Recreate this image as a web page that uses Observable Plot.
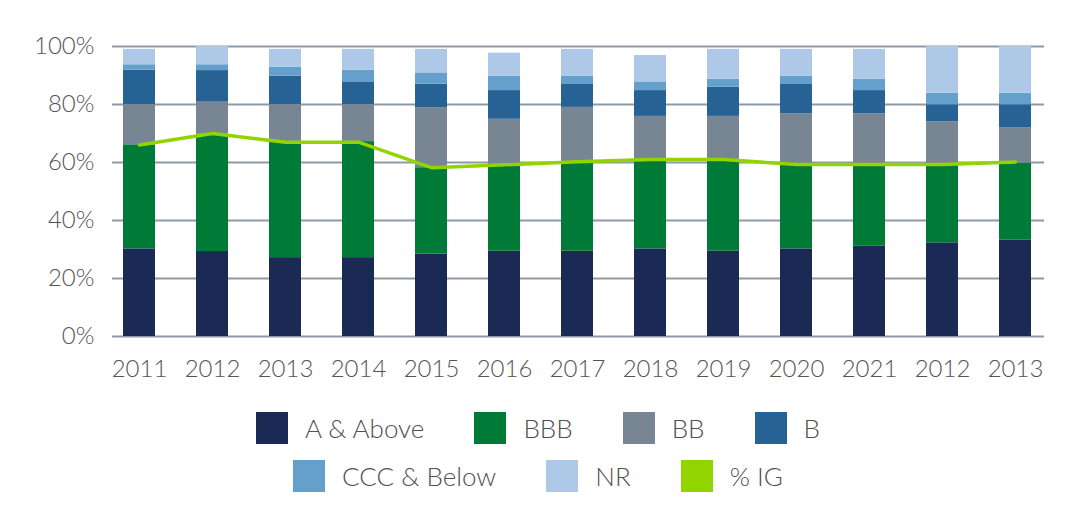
<!DOCTYPE html>
<html>
<head>
<meta charset="utf-8">
<script src="https://cdn.jsdelivr.net/npm/d3@7"></script>
<script src="https://cdn.jsdelivr.net/npm/@observablehq/plot@0.6"></script>
<style>
  body { margin: 0; background: #fff; font-family: Lato, "Open Sans", sans-serif; font-weight: 300; }
  #chart svg { display: block; }
  .legend { width: 1076px; padding-top: 14px; color: #505050; font-size: 26px; }
  .row { display: flex; justify-content: center; align-items: center; height: 48px; }
  .item { display: flex; align-items: center; margin: 0 25px; }
  .sw { width: 32px; height: 32px; margin-right: 17px; }
</style>
</head>
<body>
<div id="chart"></div>
<div class="legend" id="legend"></div>
<script>
const years = ["2011","2012","2013","2014","2015","2016","2017","2018","2019","2020","2021","2012","2013"];
const categories = ["A & Above","BBB","BB","B","CCC & Below","NR"];
const colors = ["#1b2a55","#007a37","#778692","#266294","#659fcb","#adc9e7"];
const igColor = "#92d400";

const aAbove   = [30.2, 29.3, 27.2, 27.2, 28.4, 29.4, 29.4, 30.2, 29.4, 30.2, 31.1, 32.3, 33.3];
const bbb      = [35.9, 40.5, 39.7, 40.0, 29.8, 29.8, 30.9, 30.8, 31.6, 29.1, 28.2, 27.0, 26.5];
const bb       = [13.9, 11.0, 13.1, 12.8, 20.7, 15.7, 18.7, 14.9, 14.9, 17.5, 17.5, 14.7, 12.1];
const b        = [11.8, 10.9,  9.8,  7.8,  8.1,  9.9,  7.9,  8.9, 10.1, 10.1,  8.0,  5.9,  8.0];
const cccBelow = [ 1.9,  2.0,  3.1,  4.0,  3.9,  5.0,  2.9,  3.0,  2.7,  2.9,  3.9,  4.0,  4.0];
const nr       = [ 5.3,  6.3,  6.1,  7.2,  8.1,  7.9,  9.2,  9.1, 10.3,  9.2, 10.3, 16.1, 16.1];
const pctIG    = [66.0, 70.0, 67.0, 67.0, 58.2, 59.2, 60.3, 61.0, 61.0, 59.3, 59.3, 59.3, 60.2];

const series = [aAbove, bbb, bb, b, cccBelow, nr];
const idx = years.map((_, i) => String(i));
const rows = [];
categories.forEach((c, ci) => {
  series[ci].forEach((v, i) => rows.push({key: idx[i], cat: c, value: v}));
});
const igRows = pctIG.map((v, i) => ({key: idx[i], value: v}));

const plot = Plot.plot({
  width: 1076,
  height: 390,
  marginLeft: 102.5,
  marginRight: 24.5,
  marginTop: 46,
  marginBottom: 54,
  style: {fontFamily: "Lato, 'Open Sans', sans-serif", fontSize: "24px", color: "#555", fontWeight: 300},
  x: {domain: idx, paddingInner: 0.56, paddingOuter: 0.28, label: null},
  y: {domain: [0, 100], label: null},
  color: {domain: categories, range: colors},
  marks: [
    Plot.ruleY([0, 20, 40, 60, 80, 100], {stroke: "#8d99a6", strokeWidth: 2, insetLeft: 9.5, insetRight: 7.5}),
    Plot.barY(rows, {x: "key", y: "value", fill: "cat", order: categories}),
    Plot.line(igRows, {x: "key", y: "value", stroke: igColor, strokeWidth: 3.5}),
    Plot.axisY({ticks: [0, 20, 40, 60, 80, 100], tickFormat: d => d + "%", tickSize: 0, tickPadding: 8.5, label: null, fill: "#555"}),
    Plot.axisX({tickFormat: d => years[+d], tickSize: 0, tickPadding: 23, label: null, fill: "#555"})
  ]
});
document.getElementById("chart").appendChild(plot);

const legendRows = [
  [[categories[0], colors[0]], [categories[1], colors[1]], [categories[2], colors[2]], [categories[3], colors[3]]],
  [[categories[4], colors[4]], [categories[5], colors[5]], ["% IG", igColor]]
];
const legend = document.getElementById("legend");
legendRows.forEach(r => {
  const row = document.createElement("div");
  row.className = "row";
  r.forEach(([label, color]) => {
    const item = document.createElement("div");
    item.className = "item";
    const sw = document.createElement("div");
    sw.className = "sw";
    sw.style.background = color;
    const t = document.createElement("span");
    t.textContent = label;
    item.appendChild(sw);
    item.appendChild(t);
    row.appendChild(item);
  });
  legend.appendChild(row);
});
</script>
</body>
</html>
